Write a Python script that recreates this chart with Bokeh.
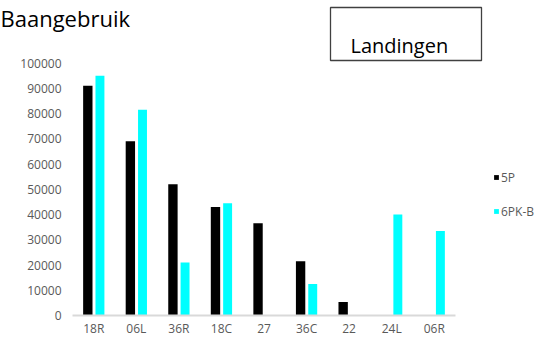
from bokeh.plotting import figure
from bokeh.models import (ColumnDataSource, Range1d, Legend, LegendItem, Label,
                          BoxAnnotation, NumeralTickFormatter, FixedTicker)
from bokeh.embed import file_html
from bokeh.resources import INLINE

# ---- data ----
categories = ["18R", "06L", "36R", "18C", "27", "36C", "22", "24L", "06R"]
series_5p = [91000, 69000, 52000, 43000, 36500, 21500, 5300, 0, 0]
series_6pkb = [95000, 81500, 21000, 44500, 0, 12500, 0, 40000, 33500]
y_ticks = [0, 10000, 20000, 30000, 40000, 50000, 60000, 70000, 80000, 90000, 100000]
title_text = "Baangebruik"
box_text = "Landingen"

FONT = "Open Sans"
GREY = "#595959"

# ---- geometry (canvas pixels) ----
W, H = 547, 340
BOTTOM = 25                 # x-axis panel
FRAME_H = H - BOTTOM        # frame spans canvas y 0..FRAME_H
PX_PER_CAT = 42.556         # category width in px
CAT0 = 72                   # canvas x of first category's left edge
PX_PER_UNIT_Y = 252.5 / 100000

x_start = -CAT0 / PX_PER_CAT
x_end = (W - CAT0) / PX_PER_CAT
y_end = FRAME_H / PX_PER_UNIT_Y


def cx(px):  # canvas x -> data x
    return (px - CAT0) / PX_PER_CAT


def cy(py):  # canvas y (from top) -> data y
    return (FRAME_H - py) / PX_PER_UNIT_Y


n = len(categories)
centers = [i + 0.5 for i in range(n)]
src = ColumnDataSource(dict(xa=[c - 0.14 for c in centers], xb=[c + 0.145 for c in centers],
                            a=series_5p, b=series_6pkb))

p = figure(width=W, height=H, output_backend="svg", toolbar_location=None,
           x_range=Range1d(x_start, x_end), y_range=Range1d(0, y_end),
           min_border_left=0, min_border_right=0, min_border_top=0,
           min_border_bottom=BOTTOM)
p.title.visible = False
p.outline_line_color = None
p.xgrid.visible = False
p.ygrid.visible = False

r1 = p.vbar(x="xa", top="a", width=0.22, source=src, fill_color="#000000", line_color=None)
r2 = p.vbar(x="xb", top="b", width=0.21, source=src, fill_color="#00FFFF", line_color=None)

xa = p.xaxis[0]
xa.bounds = (0, n)
xa.ticker = FixedTicker(ticks=centers)
xa.major_label_overrides = {c: lab for c, lab in zip(centers, categories)}
xa.axis_line_color = "#d9d9d9"
xa.axis_line_width = 2
xa.major_tick_line_color = None
xa.minor_tick_line_color = None
xa.major_tick_out = 0
xa.major_tick_in = 0
xa.major_label_standoff = 4
xa.major_label_text_font = FONT
xa.major_label_text_font_size = "12px"
xa.major_label_text_color = GREY

ya = p.yaxis[0]
ya.ticker = FixedTicker(ticks=y_ticks)
ya.formatter = NumeralTickFormatter(format="0")
ya.axis_line_color = None
ya.major_tick_line_color = None
ya.minor_tick_line_color = None
ya.major_tick_out = 0
ya.major_tick_in = 0
ya.major_label_standoff = -61
ya.major_label_text_font = FONT
ya.major_label_text_font_size = "12px"
ya.major_label_text_color = GREY

legend = Legend(items=[LegendItem(label="5P", renderers=[r1]),
                       LegendItem(label="6PK-B", renderers=[r2])],
                location=(493, 94), glyph_width=6, glyph_height=6,
                label_height=20, spacing=14, padding=0, margin=0,
                label_standoff=2, border_line_color=None, background_fill_alpha=0,
                label_text_font=FONT, label_text_font_size="12px",
                label_text_color=GREY)
p.add_layout(legend)

# boxed caption
p.add_layout(BoxAnnotation(left=cx(330), right=cx(481), top=cy(7), bottom=cy(60),
                           fill_color="white", fill_alpha=1,
                           line_color="#404040", line_alpha=1, line_width=1.3))
p.add_layout(Label(x=cx(350), y=cy(44.5), text=box_text, text_font=FONT,
                   text_font_size="20px", text_color="#000000", text_baseline="alphabetic"))

# chart title
p.add_layout(Label(x=cx(0), y=cy(17), text=title_text, text_font=FONT,
                   text_font_size="22px", text_color="#000000", text_baseline="alphabetic"))

open("out.html", "w").write(file_html(p, INLINE))
